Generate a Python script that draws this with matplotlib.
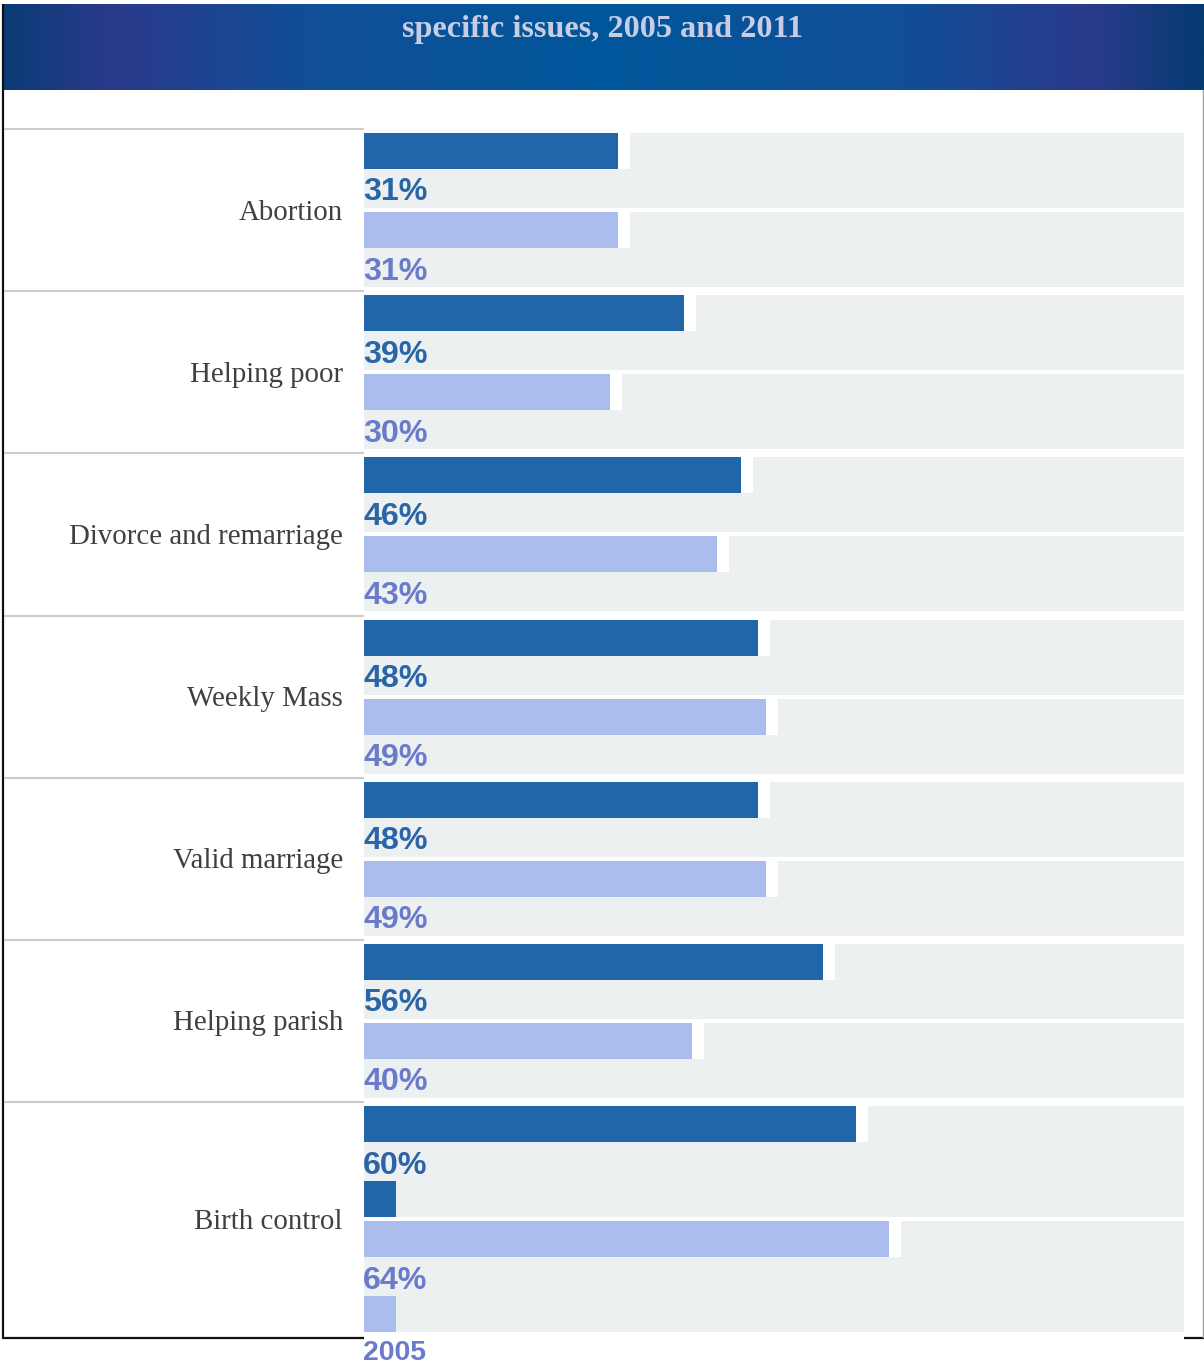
import numpy as np
import matplotlib
matplotlib.use("Agg")
import matplotlib.pyplot as plt
from matplotlib.colors import LinearSegmentedColormap

# ---------------- data ----------------
title = "specific issues, 2005 and 2011"
categories = ["Abortion", "Helping poor", "Divorce and remarriage", "Weekly Mass",
              "Valid marriage", "Helping parish", "Birth control"]
values_2011 = [31, 39, 46, 48, 48, 56, 60]
values_2005 = [31, 30, 43, 49, 49, 40, 64]
labels_2011 = ["31%", "39%", "46%", "48%", "48%", "56%", "60%"]
labels_2005 = ["31%", "30%", "43%", "49%", "49%", "40%", "64%"]
swatch_value = 3.9          # small legend swatch bars in the last row
legend_label = "2005"

# ---------------- style ----------------
W, H = 1204, 1367
DARK = "#2166a8"
LIGHT = "#abbdec"
DARK_TXT = "#2a65a7"
LIGHT_TXT = "#6a7bcb"
TRACK = "#edf0f1"
CAT_TXT = "#404040"

fig = plt.figure(figsize=(W / 100, H / 100), dpi=100)
fig.patch.set_facecolor("white")

bg = fig.add_axes([0, 0, 1, 1])
bg.axis("off")

# header gradient band
cmap = LinearSegmentedColormap.from_list(
    "hdr", [(0.0, "#0b3b76"), (0.09, "#2b3a8b"), (0.25, "#114e98"),
            (0.5, "#00579b"), (0.75, "#114e98"), (0.91, "#2b3a8b"), (1.0, "#053a72")])
grad = np.linspace(0, 1, 800)[None, :]
bg.imshow(grad, cmap=cmap, extent=[3, W, 90, 4], aspect="auto", interpolation="bilinear")
bg.set_xlim(0, W)
bg.set_ylim(H, 0)

bg.text(603, 36.5, title, ha="center", va="baseline", fontsize=23.2, fontweight="bold",
        family="Liberation Serif", color="#c9cde3")

# borders
bg.plot([2.5, 2.5], [4, 1338], color="#111111", lw=1.6, solid_capstyle="butt")
bg.plot([2, 364], [1337.5, 1337.5], color="#111111", lw=1.6, solid_capstyle="butt")
bg.plot([1184, 1204], [1337.5, 1337.5], color="#111111", lw=1.6, solid_capstyle="butt")
bg.plot([1203, 1203], [90, 1337], color="#a0a0a0", lw=1.0)

row_tops = [129 + 162.17 * i for i in range(len(categories))]
row_bottoms = row_tops[1:] + [1337]
for y in row_tops:
    bg.plot([4, 364], [y, y], color="#cccccc", lw=1.5, solid_capstyle="butt")

for cat, yt, yb in zip(categories, row_tops, row_bottoms):
    bg.text(343, (yt + yb) / 2 + 9.5, cat, ha="right", va="baseline", fontsize=20.8,
            family="Liberation Serif", color=CAT_TXT)

# ---------------- bars ----------------
ax = fig.add_axes([364 / W, 0, 820 / W, 1])
ax.set_xlim(0, 100)
ax.set_ylim(H, 0)
ax.axis("off")
ax.patch.set_alpha(0)

GAP = 12 / 8.2
FS = 23.2
n = len(categories)
for i in range(n):
    last = i == n - 1
    top = row_tops[i] + 4
    track_h = 111 if last else 75
    series = [(values_2011[i], labels_2011[i], DARK, DARK_TXT),
              (values_2005[i], labels_2005[i], LIGHT, LIGHT_TXT)]
    for j, (v, lab, col, tcol) in enumerate(series):
        t = top + j * (track_h + 4)
        ax.barh(t, 100, height=track_h, left=0, align="edge", color=TRACK, linewidth=0)
        ax.barh(t, v + GAP, height=36, left=0, align="edge", color="white", linewidth=0)
        ax.barh(t, v, height=36, left=0, align="edge", color=col, linewidth=0)
        ax.text(-0.1, t + 36 + 31.5, lab, ha="left", va="baseline", fontsize=FS,
                fontweight="bold", family="Liberation Sans", color=tcol)
        if last:
            ax.barh(t + 75, swatch_value, height=36, left=0, align="edge",
                    color=col, linewidth=0)
    if last:
        ax.text(-0.1, top + 2 * (track_h + 4) - 4 + 27.5, legend_label, ha="left",
                va="baseline", fontsize=20.4, fontweight="bold",
                family="Liberation Sans", color=LIGHT_TXT)

fig.savefig("out.png", dpi=100, facecolor="white")
